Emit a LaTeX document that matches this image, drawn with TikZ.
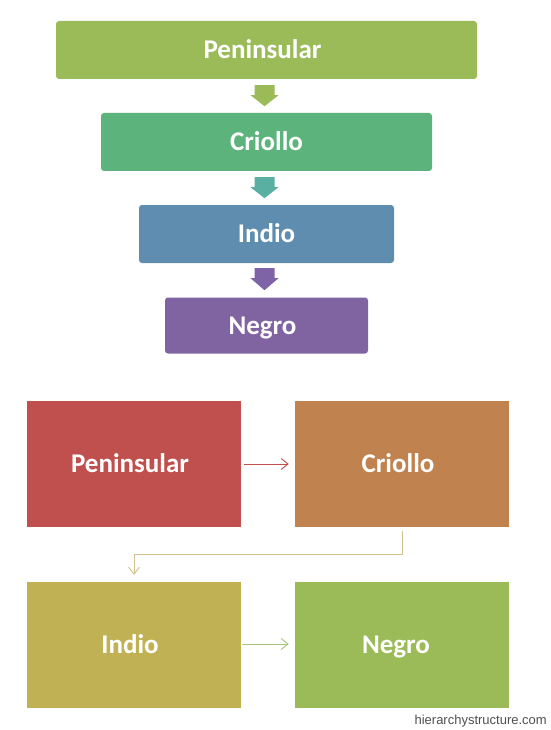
\documentclass[tikz,border=0pt]{standalone}
\usepackage{fontspec}
\setmainfont{Carlito}
\newfontfamily\wmfont{Liberation Sans}
\usetikzlibrary{arrows.meta,calc}
\definecolor{cGreen}{HTML}{9BBB59}
\definecolor{cSea}{HTML}{5CB47C}
\definecolor{cTealArrow}{HTML}{5AAFA3}
\definecolor{cSteel}{HTML}{5F8DAF}
\definecolor{cPurpArrow}{HTML}{7F63A7}
\definecolor{cPurple}{HTML}{8064A2}
\definecolor{cRed}{HTML}{C0504D}
\definecolor{cOrange}{HTML}{C08350}
\definecolor{cOlive}{HTML}{C0B254}
\definecolor{cTan}{HTML}{D3C190}
\definecolor{cLgreen}{HTML}{A9C476}
\definecolor{cWm}{HTML}{505050}
\newcommand{\txtnudge}{\hspace*{-8pt}}
\tikzset{
  lbl/.style={text=white, font=\bfseries\fontsize{27}{32}\selectfont, inner sep=0pt, text height=17.4pt, text depth=0pt},
  topbox/.style={lbl, rounded corners=3pt, minimum height=58pt},
  botbox/.style={lbl, minimum width=214pt, minimum height=126pt},
  thin arrow/.style={line width=0.9pt, -{Straight Barb[length=7pt,width=11pt]}},
}
\begin{document}
\begin{tikzpicture}[x=1pt,y=-1pt]
\useasboundingbox (0,0) rectangle (550,730);
\fill[white] (0,0) rectangle (550,730);
% top stack
\node[topbox, fill=cGreen, minimum width=421pt] (t1) at (266.5,50) {\txtnudge Peninsular};
\node[topbox, fill=cSea, minimum width=331pt] (t2) at (266.5,142) {Criollo};
\node[topbox, fill=cSteel, minimum width=255pt] (t3) at (266.5,234) {Indio};
\node[topbox, fill=cPurple, minimum width=203pt, minimum height=56pt] (t4) at (266.5,325.5) {\txtnudge Negro};
\fill[cGreen] ($(t1.south)+(-12,6)$) -- ++(20,0) -- ++(0,10) -- ++(4,0) -- ++(-14,11) -- ++(-14,-11) -- ++(4,0) -- cycle;
\fill[cTealArrow] ($(t2.south)+(-12,6)$) -- ++(20,0) -- ++(0,10) -- ++(4,0) -- ++(-14,11) -- ++(-14,-11) -- ++(4,0) -- cycle;
\fill[cPurpArrow] ($(t3.south)+(-12,5)$) -- ++(20,0) -- ++(0,10) -- ++(4,0) -- ++(-14,12) -- ++(-14,-12) -- ++(4,0) -- cycle;
% bottom grid
\node[botbox, fill=cRed] (b1) at (134,464) {\txtnudge Peninsular};
\node[botbox, fill=cOrange] (b2) at (402,464) {\txtnudge Criollo};
\node[botbox, fill=cOlive] (b3) at (134,645) {\txtnudge Indio};
\node[botbox, fill=cGreen] (b4) at (402,645) {\txtnudge\hspace*{-4pt}Negro};
\draw[thin arrow, cRed, shorten <=3pt, shorten >=6pt] (b1.east) -- (b2.west);
\draw[thin arrow, cTan, shorten <=4pt, shorten >=7pt] (b2.south) -- ++(0,27) -| (b3.north);
\draw[thin arrow, cLgreen, shorten <=1pt, shorten >=6pt] ($(b3.east)+(0,-1)$) -- ($(b4.west)+(0,-1)$);
% watermark
\node[anchor=base east, inner sep=0pt, text=cWm, font=\wmfont\fontsize{13}{15}\selectfont] (wm) at (547,724) {hierarchystructure.com};
\end{tikzpicture}
\end{document}
